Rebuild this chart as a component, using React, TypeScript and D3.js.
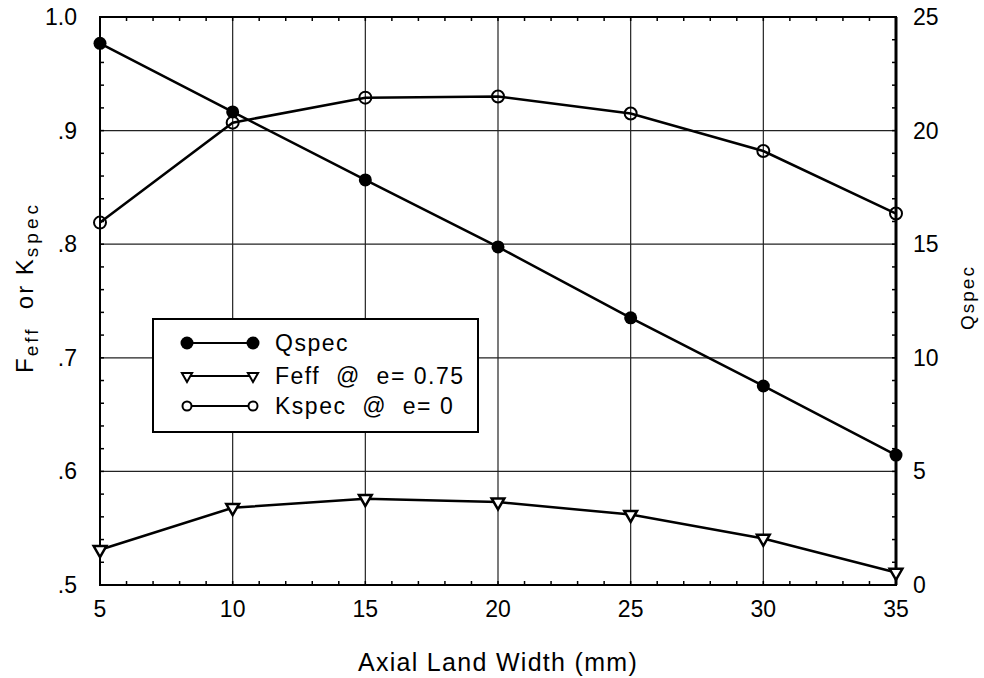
import React, { useEffect, useRef } from 'react';
import * as d3 from 'd3';

// x values (Axial Land Width, mm)
const widths = [5, 10, 15, 20, 25, 30, 35];
// series values
const qspec = [23.84, 20.82, 17.83, 14.88, 11.76, 8.76, 5.72];
const feff = [0.531, 0.568, 0.576, 0.573, 0.562, 0.541, 0.511];
const kspec = [0.819, 0.907, 0.929, 0.930, 0.915, 0.882, 0.827];

// tick labels
const xTicks = [5, 10, 15, 20, 25, 30, 35];
const yLeftTicks = [0.5, 0.6, 0.7, 0.8, 0.9, 1.0];
const yLeftLabels = ['.5', '.6', '.7', '.8', '.9', '1.0'];
const yRightTicks = [0, 5, 10, 15, 20, 25];

const legendItems = ['Qspec', 'Feff  @  e= 0.75', 'Kspec  @  e= 0'];

function App() {
    const chartRef = useRef<SVGSVGElement>(null);

    useEffect(() => {
        const svg = d3.select(chartRef.current);
        svg.selectAll('*').remove();

        const W = 984;
        const H = 678;
        const margin = { top: 17, right: 88, bottom: 93, left: 100 };
        const font = '"Liberation Sans", Arial, sans-serif';

        svg.attr('width', W).attr('height', H).style('background-color', 'white');

        const x = d3.scaleLinear().domain([5, 35]).range([margin.left, W - margin.right]);
        const yL = d3.scaleLinear().domain([0.5, 1.0]).range([H - margin.bottom, margin.top]);
        const yR = d3.scaleLinear().domain([0, 25]).range([H - margin.bottom, margin.top]);

        const x0 = x(5), x1 = x(35), y0 = yL(0.5), y1 = yL(1.0);

        // grid
        const grid = svg.append('g').attr('stroke', '#222').attr('stroke-width', 1.2);
        grid.selectAll('.vg')
            .data(xTicks.slice(1, -1))
            .enter().append('line')
            .attr('x1', (d) => x(d)).attr('x2', (d) => x(d))
            .attr('y1', y0).attr('y2', y1);
        grid.selectAll('.hg')
            .data(yLeftTicks.slice(1, -1))
            .enter().append('line')
            .attr('x1', x0).attr('x2', x1)
            .attr('y1', (d) => yL(d)).attr('y2', (d) => yL(d));

        // minor ticks (inside)
        const ticks = svg.append('g').attr('stroke', '#000').attr('stroke-width', 1.5);
        const tl = 4;
        d3.range(6, 35).forEach((v) => {
            ticks.append('line').attr('x1', x(v)).attr('x2', x(v)).attr('y1', y0).attr('y2', y0 - tl);
            ticks.append('line').attr('x1', x(v)).attr('x2', x(v)).attr('y1', y1).attr('y2', y1 + tl);
        });
        d3.range(1, 25).forEach((i) => {
            const v = 0.5 + i * 0.02;
            ticks.append('line').attr('x1', x0).attr('x2', x0 + tl).attr('y1', yL(v)).attr('y2', yL(v));
        });
        d3.range(1, 25).forEach((v) => {
            ticks.append('line').attr('x1', x1).attr('x2', x1 - tl).attr('y1', yR(v)).attr('y2', yR(v));
        });

        // frame
        svg.append('rect')
            .attr('x', x0).attr('y', y1)
            .attr('width', x1 - x0).attr('height', y0 - y1)
            .attr('fill', 'none').attr('stroke', '#000').attr('stroke-width', 2);
        svg.append('line')
            .attr('x1', x1).attr('x2', x1).attr('y1', y1).attr('y2', y0)
            .attr('stroke', '#000').attr('stroke-width', 3);

        // tick labels
        svg.append('g').selectAll('text')
            .data(yLeftTicks)
            .enter().append('text')
            .attr('x', 77).attr('y', (d) => yL(d) + 8)
            .attr('text-anchor', 'end')
            .style('font-family', font).style('font-size', '23px')
            .text((d, i) => yLeftLabels[i]);

        svg.append('g').selectAll('text')
            .data(yRightTicks)
            .enter().append('text')
            .attr('x', 913).attr('y', (d) => yR(d) + 8)
            .style('font-family', font).style('font-size', '23px')
            .text((d) => String(d));

        svg.append('g').selectAll('text')
            .data(xTicks)
            .enter().append('text')
            .attr('x', (d) => x(d)).attr('y', 617)
            .attr('text-anchor', 'middle')
            .style('font-family', font).style('font-size', '23px')
            .text((d) => String(d));

        // axis titles
        svg.append('text')
            .attr('x', (x0 + x1) / 2).attr('y', 671)
            .attr('text-anchor', 'middle')
            .style('font-family', font).style('font-size', '25px').style('letter-spacing', '1.3px')
            .text('Axial Land Width (mm)');

        const leftTitle = svg.append('text')
            .attr('transform', 'translate(33,' + 373 + ') rotate(-90)')
            .style('font-family', font).style('font-size', '24px').style('letter-spacing', '2px')
            .style('white-space', 'pre');
        leftTitle.append('tspan').text('F');
        leftTitle.append('tspan').attr('dy', 5).style('font-size', '19px').style('letter-spacing', '3px').text('eff');
        leftTitle.append('tspan').attr('dy', -5).text('  or K');
        leftTitle.append('tspan').attr('dy', 5).style('font-size', '19px').style('letter-spacing', '4px').text('spec');

        svg.append('text')
            .attr('transform', 'translate(974,' + 330 + ') rotate(-90)')
            .style('font-family', font).style('font-size', '19px').style('letter-spacing', '2px')
            .text('Qspec');

        // series
        const lineStyle = (g: any) => g.attr('fill', 'none').attr('stroke', '#000').attr('stroke-width', 2.5);

        svg.append('path')
            .datum(widths.map((w, i) => [w, kspec[i]]))
            .call(lineStyle)
            .attr('d', d3.line<number[]>().x((d) => x(d[0])).y((d) => yL(d[1])));
        svg.append('path')
            .datum(widths.map((w, i) => [w, feff[i]]))
            .call(lineStyle)
            .attr('d', d3.line<number[]>().x((d) => x(d[0])).y((d) => yL(d[1])));
        svg.append('path')
            .datum(widths.map((w, i) => [w, qspec[i]]))
            .call(lineStyle)
            .attr('d', d3.line<number[]>().x((d) => x(d[0])).y((d) => yR(d[1])));

        const tri = d3.symbol().type(d3.symbolTriangle).size(70);

        // markers
        svg.append('g').selectAll('circle')
            .data(widths)
            .enter().append('circle')
            .attr('cx', (d) => x(d)).attr('cy', (d, i) => yL(kspec[i]))
            .attr('r', 6).attr('fill', 'none').attr('stroke', '#000').attr('stroke-width', 2);

        svg.append('g').selectAll('path')
            .data(widths)
            .enter().append('path')
            .attr('d', tri)
            .attr('transform', (d, i) => 'translate(' + x(d) + ',' + yL(feff[i]) + ') rotate(180)')
            .attr('fill', 'white').attr('stroke', '#000').attr('stroke-width', 2.5);

        svg.append('g').selectAll('circle')
            .data(widths)
            .enter().append('circle')
            .attr('cx', (d) => x(d)).attr('cy', (d, i) => yR(qspec[i]))
            .attr('r', 6.5).attr('fill', '#000');

        // legend
        const lg = svg.append('g');
        lg.append('rect')
            .attr('x', 153).attr('y', 319).attr('width', 325).attr('height', 113)
            .attr('fill', 'white').attr('stroke', '#000').attr('stroke-width', 2);
        const rows = [343, 376, 406];
        const lx0 = 187, lx1 = 253;
        legendItems.forEach((label, i) => {
            const ry = rows[i];
            lg.append('line').attr('x1', lx0).attr('x2', lx1).attr('y1', ry).attr('y2', ry)
                .attr('stroke', '#000').attr('stroke-width', 2);
            [lx0, lx1].forEach((mx) => {
                if (i === 0) {
                    lg.append('circle').attr('cx', mx).attr('cy', ry).attr('r', 6.5).attr('fill', '#000');
                } else if (i === 1) {
                    lg.append('path').attr('d', d3.symbol().type(d3.symbolTriangle).size(45)())
                        .attr('transform', 'translate(' + mx + ',' + ry + ') rotate(180)')
                        .attr('fill', 'white').attr('stroke', '#000').attr('stroke-width', 2);
                } else {
                    lg.append('circle').attr('cx', mx).attr('cy', ry).attr('r', 4.5)
                        .attr('fill', 'white').attr('stroke', '#000').attr('stroke-width', 2);
                }
            });
            lg.append('text')
                .attr('x', 275).attr('y', ry + 8)
                .style('font-family', font).style('font-size', '23px').style('letter-spacing', '1.5px')
                .style('white-space', 'pre')
                .text(label);
        });
    }, []);

    return (
        <div id='chart'>
            <svg ref={chartRef} style={{ position: 'absolute', left: 0, top: 0 }}></svg>
        </div>
    );
}

export default App;
